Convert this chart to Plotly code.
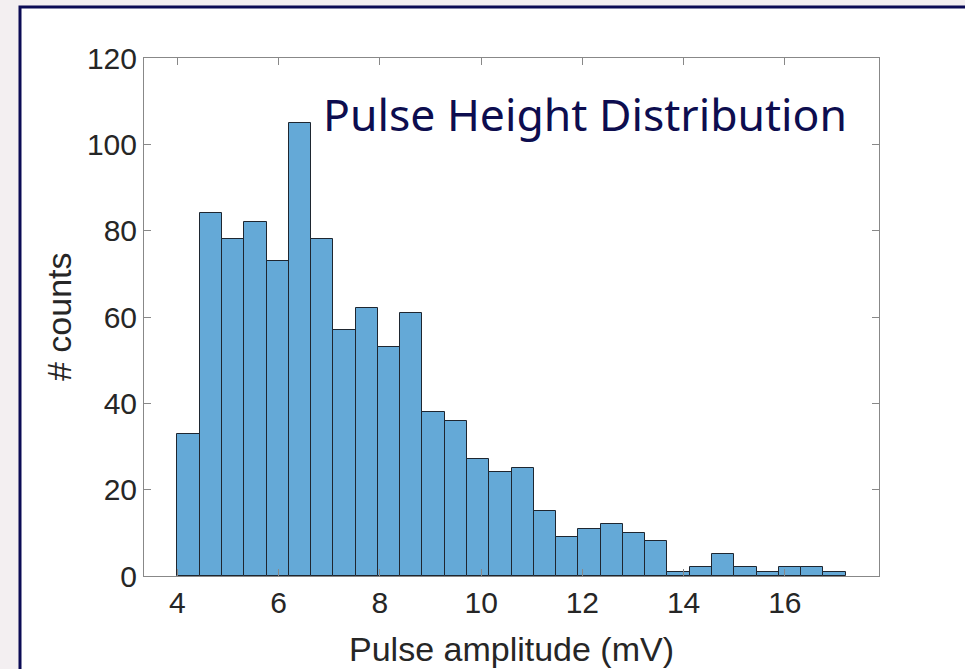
import plotly.graph_objects as go

# ---- data ----
bin_start = 4.0
bin_width = 0.44
counts = [33, 84, 78, 82, 73, 105, 78, 57, 62, 53, 61, 38, 36, 27, 24, 25,
          15, 9, 11, 12, 10, 8, 1, 2, 5, 2, 1, 2, 2, 1]
x_ticks = [4, 6, 8, 10, 12, 14, 16]
y_ticks = [0, 20, 40, 60, 80, 100, 120]
title_text = "Pulse Height Distribution"
x_label = "Pulse amplitude (mV)"
y_label = "# counts"

centers = [bin_start + bin_width * (i + 0.5) for i in range(len(counts))]

fig = go.Figure()
fig.add_trace(go.Bar(
    x=centers, y=counts, width=bin_width,
    marker=dict(color="rgb(100,169,215)",
                line=dict(color="rgb(30,38,48)", width=1)),
    showlegend=False,
))

W, H = 965, 669
ml, mr, mt, mb = 144, 86, 58, 93
pw, ph = W - ml - mr, H - mt - mb

def px(x):
    return (x - ml) / pw

def py(y):
    return 1 - (y - mt) / ph

label_font = dict(family="Liberation Sans, Arial, sans-serif", size=34,
                  color="#262626")

fig.update_layout(
    width=W, height=H,
    margin=dict(l=ml, r=mr, t=mt, b=mb, pad=0),
    paper_bgcolor="#f3eff1",
    plot_bgcolor="white",
    bargap=0,
    font=dict(family="Liberation Sans, Arial, sans-serif", color="#262626"),
    shapes=[
        dict(type="rect", xref="paper", yref="paper",
             x0=px(20), x1=px(1000), y0=py(700), y1=py(7),
             fillcolor="white", line=dict(color="#0b0b55", width=3),
             layer="below"),
    ],
    annotations=[
        dict(text=title_text, xref="paper", yref="paper",
             x=px(321), y=py(113), xanchor="left", yanchor="middle",
             showarrow=False,
             font=dict(family="Noto Sans, Open Sans, sans-serif",
                       size=44.5, color="#0d0d4f")),
        dict(text=x_label, xref="paper", yref="paper",
             x=0.5, y=py(649), xanchor="center", yanchor="middle",
             showarrow=False, font=label_font),
        dict(text=y_label, xref="paper", yref="paper", textangle=-90,
             x=px(59), y=0.5, xanchor="center", yanchor="middle",
             showarrow=False, font=label_font),
    ],
)

fig.update_xaxes(
    range=[3.34, 17.86], tickvals=x_ticks,
    ticks="inside", ticklen=7, tickcolor="#888",
    showline=True, linecolor="#888", linewidth=1, mirror="ticks",
    showgrid=False, zeroline=False, automargin=False,
    tickfont=dict(size=30, color="#262626"),
)
fig.update_yaxes(
    range=[0, 120], tickvals=y_ticks,
    ticks="inside", ticklen=7, tickcolor="#888",
    showline=True, linecolor="#888", linewidth=1, mirror="ticks",
    showgrid=False, zeroline=False, automargin=False,
    tickfont=dict(size=30, color="#262626"),
)

fig.write_html("out.html")
